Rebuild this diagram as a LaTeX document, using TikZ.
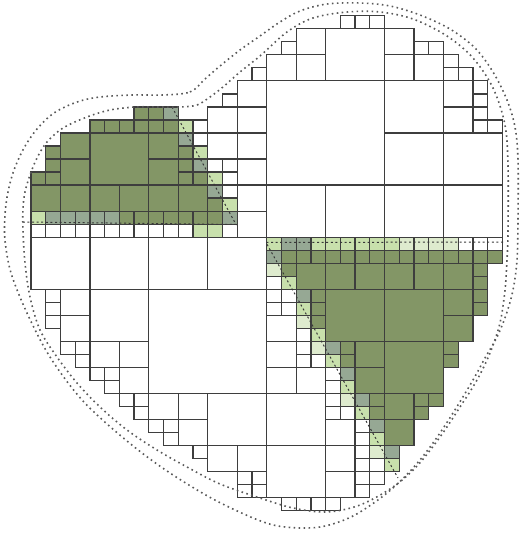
\documentclass[tikz,border=0pt]{standalone}
\definecolor{gG}{RGB}{131,150,102}
\definecolor{gY}{RGB}{150,168,148}
\definecolor{gL}{RGB}{200,224,172}
\definecolor{gP}{RGB}{222,235,206}
\definecolor{ln}{RGB}{62,62,62}
\tikzset{
  cellbox/.style={draw=ln, line width=1.25pt},
  heart/.style={draw=black!65, line width=1.6pt, dash pattern=on 1.6pt off 3.4pt},
  wedge/.style={draw=black!78, line width=1pt, dash pattern=on 2pt off 2.6pt},
}
\def\Wlist{15/4/1, 14/5/2, 13/6/1, 12/7/2, 14/7/2, 11/8/1, 11/9/1, 12/9/2, 14/9/2, 12/11/1, 13/11/1, 13/12/1, 14/11/2, 13/13/1, 14/13/2, 13/16/1, 14/15/2, 0/16/1, 1/16/1, 2/16/1, 3/16/1, 4/16/1, 5/16/1, 6/16/1, 7/16/1, 8/16/1, 9/16/1, 10/16/1,
21/0/1, 22/0/1, 23/0/1, 17/2/1, 18/1/2, 20/1/4, 24/1/2, 26/2/1, 27/2/1, 16/3/2, 18/3/2, 24/3/2, 26/3/2, 28/3/1, 28/4/1, 29/4/1, 16/5/8, 24/5/4, 28/5/2, 30/5/1, 30/6/1, 30/7/1, 30/8/1, 28/7/2, 31/8/1, 24/9/4, 28/9/4, 16/13/4, 20/13/4, 24/13/4, 28/13/4, 29/17/1, 30/17/1, 31/17/1,
16/20/1, 16/21/1, 17/21/1, 16/22/1, 17/22/1, 16/23/2, 18/24/1, 16/25/2, 18/25/1, 18/26/1, 19/26/1, 16/27/2, 18/27/2, 20/27/1, 20/28/1, 16/29/4, 20/29/1, 20/30/1, 21/30/1, 20/31/2, 22/31/1, 22/32/1, 16/33/4, 20/33/2, 20/35/2, 22/33/1, 22/34/1, 22/35/1, 22/36/1, 23/34/1, 23/35/1, 17/37/1, 18/37/1, 19/37/1, 20/37/1,
0/17/4, 4/17/4, 8/17/4, 12/17/4, 1/21/1, 1/22/1, 1/23/1, 2/21/2, 2/23/2, 4/21/4, 8/21/8, 2/25/1, 3/25/1, 3/26/1, 4/25/2, 6/25/2, 4/27/1, 5/27/1, 5/28/1, 6/27/2, 6/29/1, 7/29/1, 7/30/1, 8/29/2, 10/29/2, 12/29/4, 8/31/1, 9/31/1, 9/32/1, 10/31/2, 11/33/1, 12/33/2, 14/33/2, 14/35/1, 15/35/1, 14/36/1, 15/36/1}
\def\Glist{7/7/1, 8/7/1, 4/8/1, 5/8/1, 6/8/1, 7/8/1, 8/8/1, 9/8/1, 2/9/2, 4/9/4, 8/9/2, 1/10/1, 1/11/1, 1/12/1, 0/12/1, 2/11/2, 8/11/2, 10/10/1, 10/11/1, 10/12/1, 11/12/1, 0/13/2, 2/13/2, 4/13/2, 6/13/2, 8/13/2, 10/13/2, 12/14/1, 6/15/1, 7/15/1, 8/15/1, 9/15/1, 10/15/1, 11/15/1, 12/15/1,
17/18/1, 18/18/1, 19/18/1, 20/18/1, 21/18/1, 22/18/1, 23/18/1, 24/18/1, 25/18/1, 26/18/1, 27/18/1, 28/18/1, 29/18/1, 30/18/1, 31/18/1,
17/19/1, 18/19/2, 20/19/2, 22/19/2, 24/19/2, 26/19/2, 28/19/2, 30/19/1, 30/20/1, 19/21/1, 19/22/1, 19/23/1, 20/21/4, 24/21/4, 28/21/2, 30/21/1, 30/22/1, 28/23/2, 21/25/1, 21/26/1, 22/25/2, 24/25/4, 28/25/1, 28/26/1, 22/27/2, 23/29/1, 23/30/1, 24/29/2, 26/29/1, 27/29/1, 26/30/1, 24/31/2}
\def\Ylist{9/7/1, 10/9/1, 11/11/1, 12/13/1, 13/15/1, 1/15/1, 2/15/1, 3/15/1, 4/15/1, 5/15/1, 17/17/1, 18/17/1, 16/18/1, 18/21/1, 20/25/1, 21/27/1, 22/29/1, 23/31/1, 24/33/1}
\def\Llist{10/8/1, 11/10/1, 12/12/1, 13/14/1, 0/15/1, 11/16/1, 12/16/1, 16/17/1, 19/17/1, 20/17/1, 21/17/1, 22/17/1, 23/17/1, 24/17/1, 17/20/1, 18/22/1, 19/24/1, 20/26/1, 21/28/1, 22/30/1, 23/32/1, 24/34/1}
\def\Plist{25/17/1, 26/17/1, 27/17/1, 28/17/1, 16/19/1, 18/23/1, 19/25/1, 21/29/1, 23/33/1}
\begin{document}
\begin{tikzpicture}[x=1pt,y=-1pt]
\useasboundingbox (0,0) rectangle (519,537);
\begin{scope}[shift={(31pt,-15.7pt)}, x=14.73pt, y=-13.03pt]
  \foreach \c/\r/\s in \Glist {\fill[gG] (\c,\r) rectangle ++(\s,\s);}
  \foreach \c/\r/\s in \Ylist {\fill[gY] (\c,\r) rectangle ++(\s,\s);}
  \foreach \c/\r/\s in \Llist {\fill[gL] (\c,\r) rectangle ++(\s,\s);}
  \foreach \c/\r/\s in \Plist {\fill[gP] (\c,\r) rectangle ++(\s,\s);}
  \foreach \c/\r/\s in \Wlist {\draw[cellbox] (\c,\r) rectangle ++(\s,\s);}
  \foreach \c/\r/\s in \Glist {\draw[cellbox] (\c,\r) rectangle ++(\s,\s);}
  \foreach \c/\r/\s in \Ylist {\draw[cellbox] (\c,\r) rectangle ++(\s,\s);}
  \foreach \c/\r/\s in \Llist {\draw[cellbox] (\c,\r) rectangle ++(\s,\s);}
  \foreach \c/\r/\s in \Plist {\draw[cellbox] (\c,\r) rectangle ++(\s,\s);}
\end{scope}
% wedge boundaries
\draw[wedge] (172,107) -- (236,224.5) -- (22,222);
\draw[wedge] (503,242) -- (266,242.5) -- (398,478);
% outer dotted curve
\draw[heart] plot[smooth cycle, tension=0.55] coordinates {(163,95) (190,92) (205,79) (220,66) (240,50) (260,36) (280,22) (300,11) (327,4) (360,3) (390,6) (420,15) (450,29) (475,48) (493,72) (507,100) (515,127) (518,160) (518,220) (517,260) (513,290) (506,315) (497,337) (485,358) (473,380) (453,413) (433,443) (413,468) (387,493) (353,516) (320,527) (285,527) (258,520) (213,499) (167,471) (127,441) (83,401) (50,357) (27,313) (11,273) (5,240) (5,215) (8,192) (14,170) (24,148) (37,129) (54,113) (77,102) (100,97) (133,95)};
% inner dotted curve
\draw[heart] plot[smooth cycle, tension=0.55] coordinates {(180,107) (197,105) (210,97) (223,87) (240,72) (260,56) (287,32) (313,18) (347,12) (380,12) (413,19) (447,36) (473,58) (493,88) (505,125) (508,167) (508,233) (507,260) (505,290) (500,323) (490,353) (477,380) (460,407) (440,437) (417,466) (393,487) (360,505) (327,512) (293,508) (260,498) (220,484) (187,467) (157,450) (127,430) (100,407) (77,383) (57,357) (40,330) (30,297) (25,263) (23,230) (23,208) (25,192) (30,175) (37,158) (47,142) (63,128) (87,117) (110,110) (135,107) (158,107)};
\end{tikzpicture}
\end{document}
